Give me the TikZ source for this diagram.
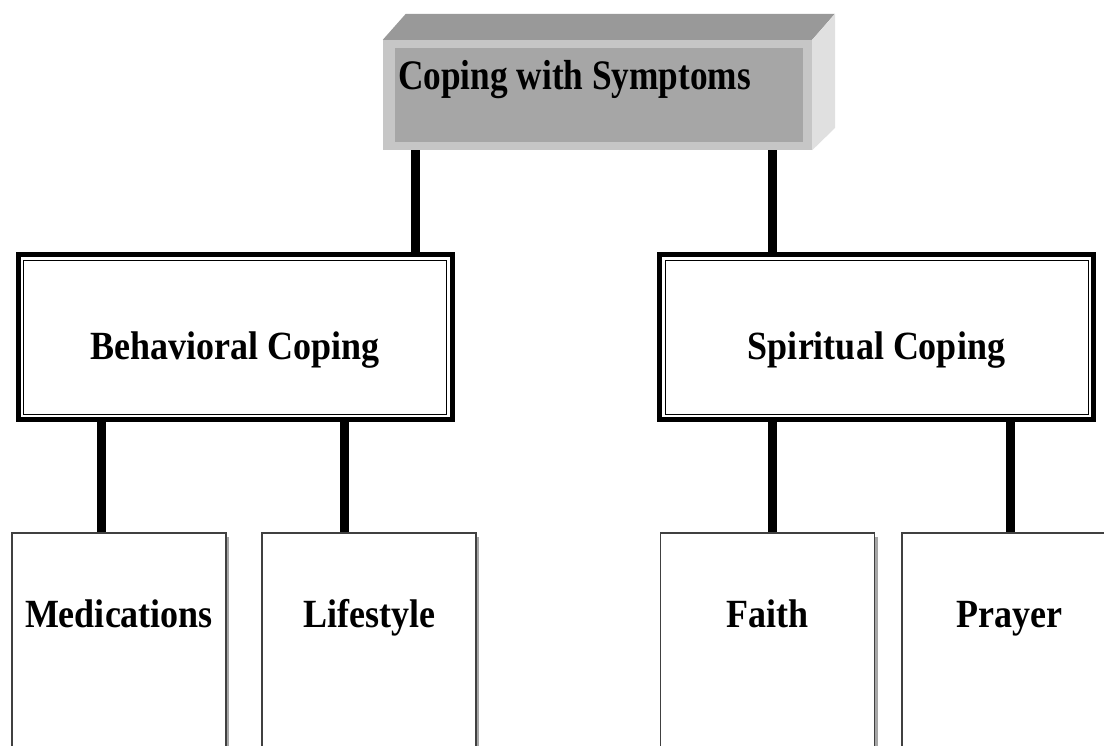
\documentclass[tikz,border=0pt]{standalone}
\usepackage{fontspec}
\setmainfont{Liberation Serif}[FakeStretch=0.9]
\newfontfamily\titlefont{Liberation Serif}[FakeStretch=0.84]
\usetikzlibrary{shadows}
\definecolor{topface}{HTML}{999999}
\definecolor{frontface}{HTML}{C6C6C6}
\definecolor{innerface}{HTML}{A6A6A6}
\definecolor{sideface}{HTML}{E0E0E0}
\definecolor{boxline}{HTML}{404040}
\begin{document}
\begin{tikzpicture}[x=1pt, y=1pt,
    link/.style={line width=9pt, black},
    catbox/.style={draw, line width=5pt, fill=white, minimum width=434pt, inner sep=0pt, outer sep=0pt,
        text height=105pt, text depth=60pt, font=\bfseries\fontsize{40}{44}\selectfont},
    leafbox/.style={draw=boxline, line width=1.5pt, fill=white, minimum width=214pt, inner sep=0pt,
        text height=95pt, text depth=170pt, font=\bfseries\fontsize{40}{44}\selectfont,
        drop shadow={shadow xshift=3pt, shadow yshift=-4pt, fill=gray!70, opacity=1}}]
    \useasboundingbox (0,0) rectangle (1104,745);
    \clip (0,0) rectangle (1104,745);

    % 3D title box
    \node[fill=frontface, minimum width=429pt, minimum height=110pt, inner sep=0pt] (top) at (597.5,650) {};
    \fill[topface] (top.north west) -- ++(23,26) -- ++(429,0) -- (top.north east) -- cycle;
    \fill[sideface] (top.north east) -- ++(23,26) -- ++(0,-114) -- (top.south east) -- cycle;
    \fill[innerface] ([shift={(12,-8)}]top.north west) rectangle ([shift={(-9,8)}]top.south east);
    \node[font=\titlefont\bfseries\fontsize{42}{46}\selectfont, anchor=base west, inner sep=0pt] (title) at (398,655) {Coping with Symptoms};

    % Coping categories
    \node[catbox] (beh) at (235,407.5) {Behavioral Coping};
    \node[catbox] (spi) at (876.5,407.5) {Spiritual Coping};
    \draw[line width=1pt] ([shift={(5.5,-5.5)}]beh.north west) rectangle ([shift={(-5.5,5.5)}]beh.south east);
    \draw[line width=1pt] ([shift={(5.5,-5.5)}]spi.north west) rectangle ([shift={(-5.5,5.5)}]spi.south east);

    % Leaves
    \node[leafbox] (med) at (119,79.5) {Medications};
    \node[leafbox] (life) at (369,79.5) {Lifestyle};
    \node[leafbox] (faith) at (767.5,79.5) {Faith};
    \node[leafbox] (pray) at (1009,79.5) {Prayer};

    % Connectors
    \draw[link] ([xshift=-182.5pt]top.south) -- ([xshift=-182.5pt]top.south |- beh.north);
    \draw[link] ([xshift=174.5pt]top.south) -- ([xshift=174.5pt]top.south |- spi.north);
    \draw[link] ([xshift=-18pt]med.north) -- ([xshift=-18pt]med.north |- beh.south);
    \draw[link] ([xshift=-25pt]life.north) -- ([xshift=-25pt]life.north |- beh.south);
    \draw[link] ([xshift=4.5pt]faith.north) -- ([xshift=4.5pt]faith.north |- spi.south);
    \draw[link] ([xshift=1pt]pray.north) -- ([xshift=1pt]pray.north |- spi.south);
\end{tikzpicture}
\end{document}
